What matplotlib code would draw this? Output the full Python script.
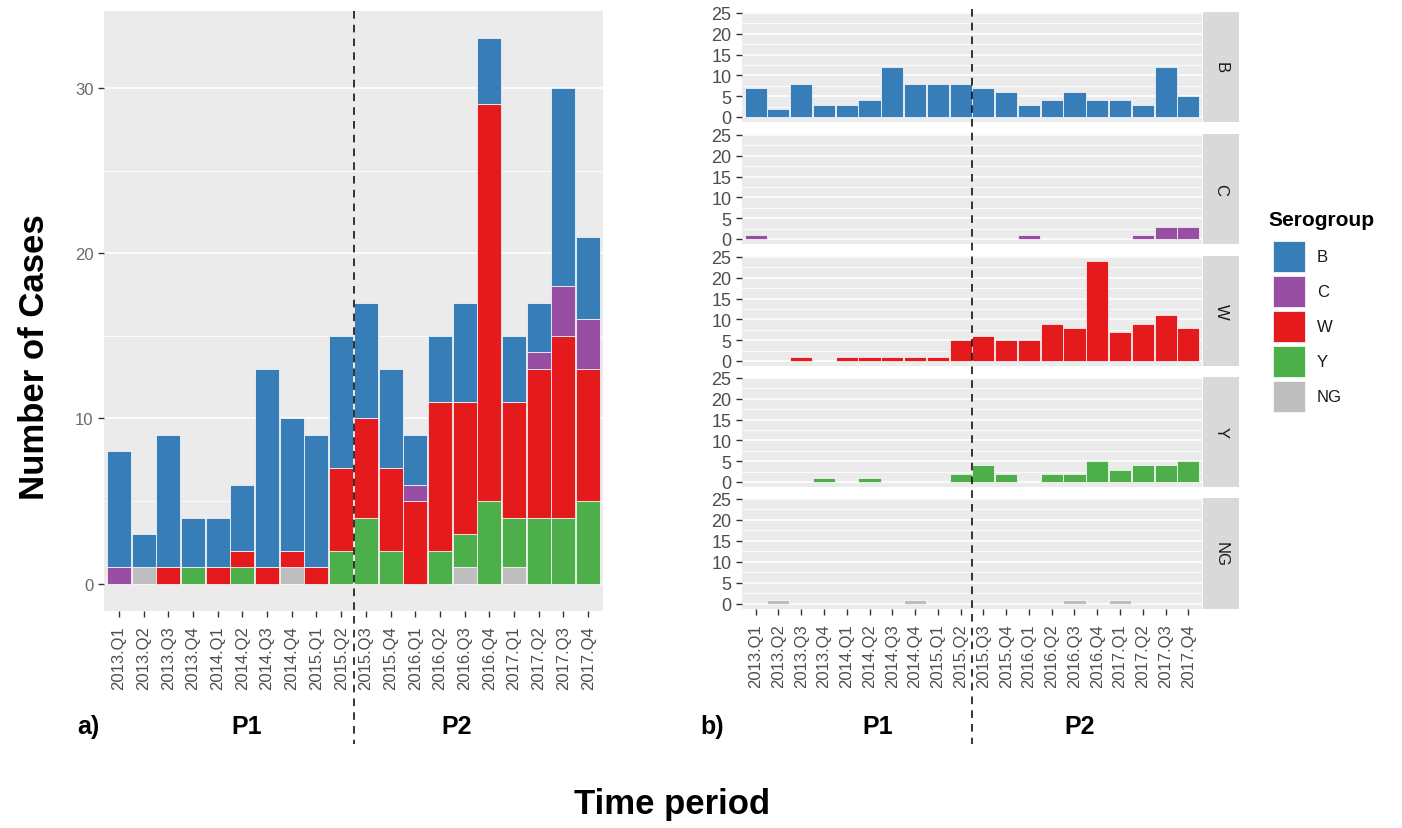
import matplotlib
matplotlib.use("Agg")
import matplotlib.pyplot as plt
from matplotlib.patches import Rectangle
from matplotlib.lines import Line2D
from matplotlib.transforms import blended_transform_factory
import numpy as np

plt.rcParams['font.family'] = ['Liberation Sans', 'DejaVu Sans']

quarters = ["2013.Q1", "2013.Q2", "2013.Q3", "2013.Q4", "2014.Q1", "2014.Q2", "2014.Q3", "2014.Q4",
            "2015.Q1", "2015.Q2", "2015.Q3", "2015.Q4", "2016.Q1", "2016.Q2", "2016.Q3", "2016.Q4",
            "2017.Q1", "2017.Q2", "2017.Q3", "2017.Q4"]
sero_B = [7, 2, 8, 3, 3, 4, 12, 8, 8, 8, 7, 6, 3, 4, 6, 4, 4, 3, 12, 5]
sero_C = [1, 0, 0, 0, 0, 0, 0, 0, 0, 0, 0, 0, 1, 0, 0, 0, 0, 1, 3, 3]
sero_W = [0, 0, 1, 0, 1, 1, 1, 1, 1, 5, 6, 5, 5, 9, 8, 24, 7, 9, 11, 8]
sero_Y = [0, 0, 0, 1, 0, 1, 0, 0, 0, 2, 4, 2, 0, 2, 2, 5, 3, 4, 4, 5]
sero_NG = [0, 1, 0, 0, 0, 0, 0, 1, 0, 0, 0, 0, 0, 0, 1, 0, 1, 0, 0, 0]
groups = ["B", "C", "W", "Y", "NG"]
colors = {"B": "#377EB8", "C": "#984EA3", "W": "#E41A1C", "Y": "#4DAF4A", "NG": "#BEBEBE"}
series = {"B": sero_B, "C": sero_C, "W": sero_W, "Y": sero_Y, "NG": sero_NG}
period_split = 10.5  # between 2015.Q2 and 2015.Q3

W, H = 1402, 829
fig = plt.figure(figsize=(W / 100, H / 100), dpi=100)


def px_axes(x0, y0, x1, y1):
    return fig.add_axes([x0 / W, 1 - y1 / H, (x1 - x0) / W, (y1 - y0) / H])


def fy(ypx):
    return 1 - ypx / H


PANEL_BG = "#EBEBEB"
TICK_C = "#4D4D4D"
x = np.arange(1, len(quarters) + 1)

# ---------------- panel a ----------------
axa = px_axes(104, 12, 603, 612)
axa.set_facecolor(PANEL_BG)
bottom = np.zeros(len(quarters))
for g in ["NG", "Y", "W", "C", "B"]:
    vals = np.array(series[g], dtype=float)
    axa.bar(x, vals, width=0.97, bottom=bottom, color=colors[g], edgecolor="white",
            linewidth=0.5, zorder=3)
    bottom += vals
totmax = bottom.max()
axa.set_xlim(0.4, len(quarters) + 0.6)
axa.set_ylim(-0.05 * totmax, totmax * 1.05)
axa.set_yticks([0, 10, 20, 30])
axa.set_yticks([5, 15, 25], minor=True)
axa.grid(axis="y", which="major", color="white", linewidth=1.2, zorder=0)
axa.grid(axis="y", which="minor", color="white", linewidth=0.6, zorder=0)
axa.set_xticks(x)
axa.set_xticklabels(quarters, rotation=90)
axa.tick_params(axis="both", which="major", labelsize=12, colors="#333333", labelcolor=TICK_C,
                length=4, width=1)
axa.tick_params(axis="x", pad=6)
axa.tick_params(axis="y", labelsize=12, labelcolor="#6a6a6a")
axa.tick_params(axis="y", which="minor", length=0)
for s in axa.spines.values():
    s.set_visible(False)
tra = blended_transform_factory(axa.transData, fig.transFigure)
fig.add_artist(Line2D([period_split, period_split], [fy(12), fy(745)], transform=tra,
                      color="black", linestyle=(0, (5, 4)), linewidth=1.1))

# ---------------- panel b ----------------
rows = [(13, 123), (135, 245), (257, 367), (378, 488), (499, 610)]
axes_b = []
for i, g in enumerate(groups):
    y0, y1 = rows[i]
    ax = px_axes(742, y0, 1202, y1)
    axes_b.append(ax)
    ax.set_facecolor(PANEL_BG)
    vals = np.array(series[g], dtype=float)
    mask = vals > 0
    ax.bar(x[mask], vals[mask], width=0.97, color=colors[g], edgecolor="white",
           linewidth=0.5, zorder=3)
    ax.set_xlim(0.4, len(quarters) + 0.6)
    ax.set_ylim(-1.2, 25.2)
    ax.set_yticks([0, 5, 10, 15, 20, 25])
    ax.set_yticks([2.5, 7.5, 12.5, 17.5, 22.5], minor=True)
    ax.grid(axis="y", which="major", color="white", linewidth=1.2, zorder=0)
    ax.grid(axis="y", which="minor", color="white", linewidth=0.6, zorder=0)
    ax.set_xticks(x)
    ax.tick_params(axis="both", which="major", labelsize=13, colors="#333333", labelcolor=TICK_C,
                   length=4, width=1)
    ax.tick_params(axis="y", which="minor", length=0)
    if i == len(groups) - 1:
        ax.set_xticklabels(quarters, rotation=90)
        ax.tick_params(axis="x", labelsize=12, pad=6)
    else:
        ax.set_xticklabels([])
        ax.tick_params(axis="x", length=0)
    for s in ax.spines.values():
        s.set_visible(False)
    # strip
    st = px_axes(1203, y0, 1239, y1)
    st.set_facecolor("#D9D9D9")
    st.set_xticks([])
    st.set_yticks([])
    for s in st.spines.values():
        s.set_visible(False)
    st.text(0.5, 0.5, g, rotation=270, ha="center", va="center", fontsize=12,
            color="#1A1A1A", transform=st.transAxes)

trb = blended_transform_factory(axes_b[0].transData, fig.transFigure)
fig.add_artist(Line2D([period_split, period_split], [fy(10), fy(745)], transform=trb,
                      color="black", linestyle=(0, (5, 4)), linewidth=1.1))

# ---------------- text ----------------
fig.text(35 / W, fy(357), "Number of Cases", rotation=90, ha="center", va="center",
         fontsize=25, fontweight="bold")
fig.text(672 / W, fy(805), "Time period", ha="center", va="center",
         fontsize=25, fontweight="bold")
for label, xp in [("a)", 88), ("P1", 247), ("P2", 457), ("b)", 712), ("P1", 878), ("P2", 1080)]:
    fig.text(xp / W, fy(727), label, ha="center", va="center", fontsize=18, fontweight="bold")

# ---------------- legend (ggplot-style guide) ----------------
fig.text(1268 / W, fy(220), "Serogroup", ha="left", va="center", fontsize=15, fontweight="bold")
for i, g in enumerate(groups):
    top = 242 + 35 * i
    fig.add_artist(Rectangle((1273 / W, fy(top + 31)), 32 / W, 31 / H, transform=fig.transFigure,
                             facecolor=colors[g], edgecolor="white", linewidth=0.5))
    fig.text(1317 / W, fy(top + 15.5), g, ha="left", va="center", fontsize=12, color="#1A1A1A")

fig.savefig("out.png", dpi=100)
